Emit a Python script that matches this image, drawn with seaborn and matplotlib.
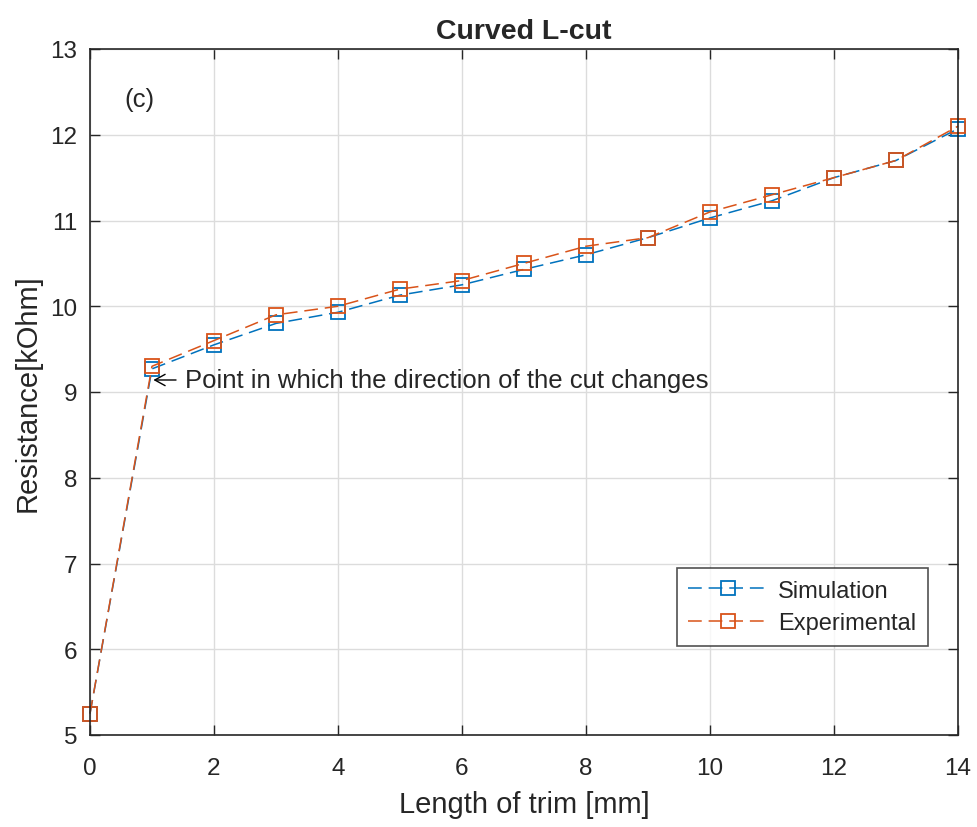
import matplotlib
matplotlib.use("Agg")
import matplotlib.pyplot as plt
import seaborn as sns
import pandas as pd

trim_mm = [0, 1, 2, 3, 4, 5, 6, 7, 8, 9, 10, 11, 12, 13, 14]
simulation = [5.25, 9.27, 9.55, 9.80, 9.93, 10.13, 10.25, 10.43, 10.60, 10.80, 11.03, 11.23, 11.50, 11.70, 12.07]
experimental = [5.25, 9.30, 9.60, 9.90, 10.00, 10.20, 10.30, 10.50, 10.70, 10.80, 11.10, 11.30, 11.50, 11.70, 12.10]
series_names = ["Simulation", "Experimental"]
colors = ["#0072BD", "#D95319"]

df = pd.concat([
    pd.DataFrame({"x": trim_mm, "y": simulation, "series": series_names[0]}),
    pd.DataFrame({"x": trim_mm, "y": experimental, "series": series_names[1]}),
])

sns.set_style("white")
plt.rcParams["font.family"] = ["Liberation Sans", "DejaVu Sans"]

fig = plt.figure(figsize=(9.77, 8.28), dpi=100)
ax = fig.add_axes([90/977, 1-736/828, (958-90)/977, (736-50)/828])

for name, c in zip(series_names, colors):
    sub = df[df["series"] == name]
    sns.lineplot(data=sub, x="x", y="y", ax=ax, color=c, linestyle=(0, (9, 4.5)),
                 linewidth=1.1, marker="s", markersize=9.8, markerfacecolor="none",
                 markeredgecolor=c, markeredgewidth=1.3, label=name, clip_on=False)

ax.set_xlim(0, 14)
ax.set_ylim(5, 13)
ax.set_xticks(range(0, 15, 2))
ax.set_yticks(range(5, 14))
ax.grid(True, color="#dcdcdc", linewidth=1)
ax.tick_params(direction="in", length=7, width=1, labelsize=17.5, colors="#262626",
               top=True, right=True, bottom=True, left=True)
ax.tick_params(axis="x", pad=16)
ax.tick_params(axis="y", pad=9)
for t in ax.get_xticklabels() + ax.get_yticklabels():
    t.set_color("#262626")
for s in ax.spines.values():
    s.set_color("#262626")
    s.set_linewidth(1.2)

ax.set_xlabel("Length of trim [mm]", fontsize=21, color="#262626", labelpad=8)
ax.set_ylabel("Resistance[kOhm]", fontsize=21, color="#262626", labelpad=6)
ax.set_title("Curved L-cut", fontsize=20.5, fontweight="bold", pad=8)
ax.text(0.56, 12.42, "(c)", fontsize=18.5, ha="left", va="center")
ax.annotate("Point in which the direction of the cut changes",
            xy=(1.0, 9.14), xytext=(1.53, 9.14), fontsize=18.5, ha="left", va="center",
            arrowprops=dict(arrowstyle="->,head_length=0.4,head_width=0.22", color="black",
                            lw=1.0, relpos=(0, 0.5), shrinkA=4, shrinkB=1))

leg = ax.legend(loc="lower right", bbox_to_anchor=(0.9654, 0.1297), borderaxespad=0,
                fontsize=17, frameon=True, fancybox=False, edgecolor="#262626",
                handlelength=3.4, borderpad=0.5, labelspacing=0.45, handletextpad=0.4)
leg.get_frame().set_linewidth(1.2)

fig.savefig("out.png", dpi=100)
